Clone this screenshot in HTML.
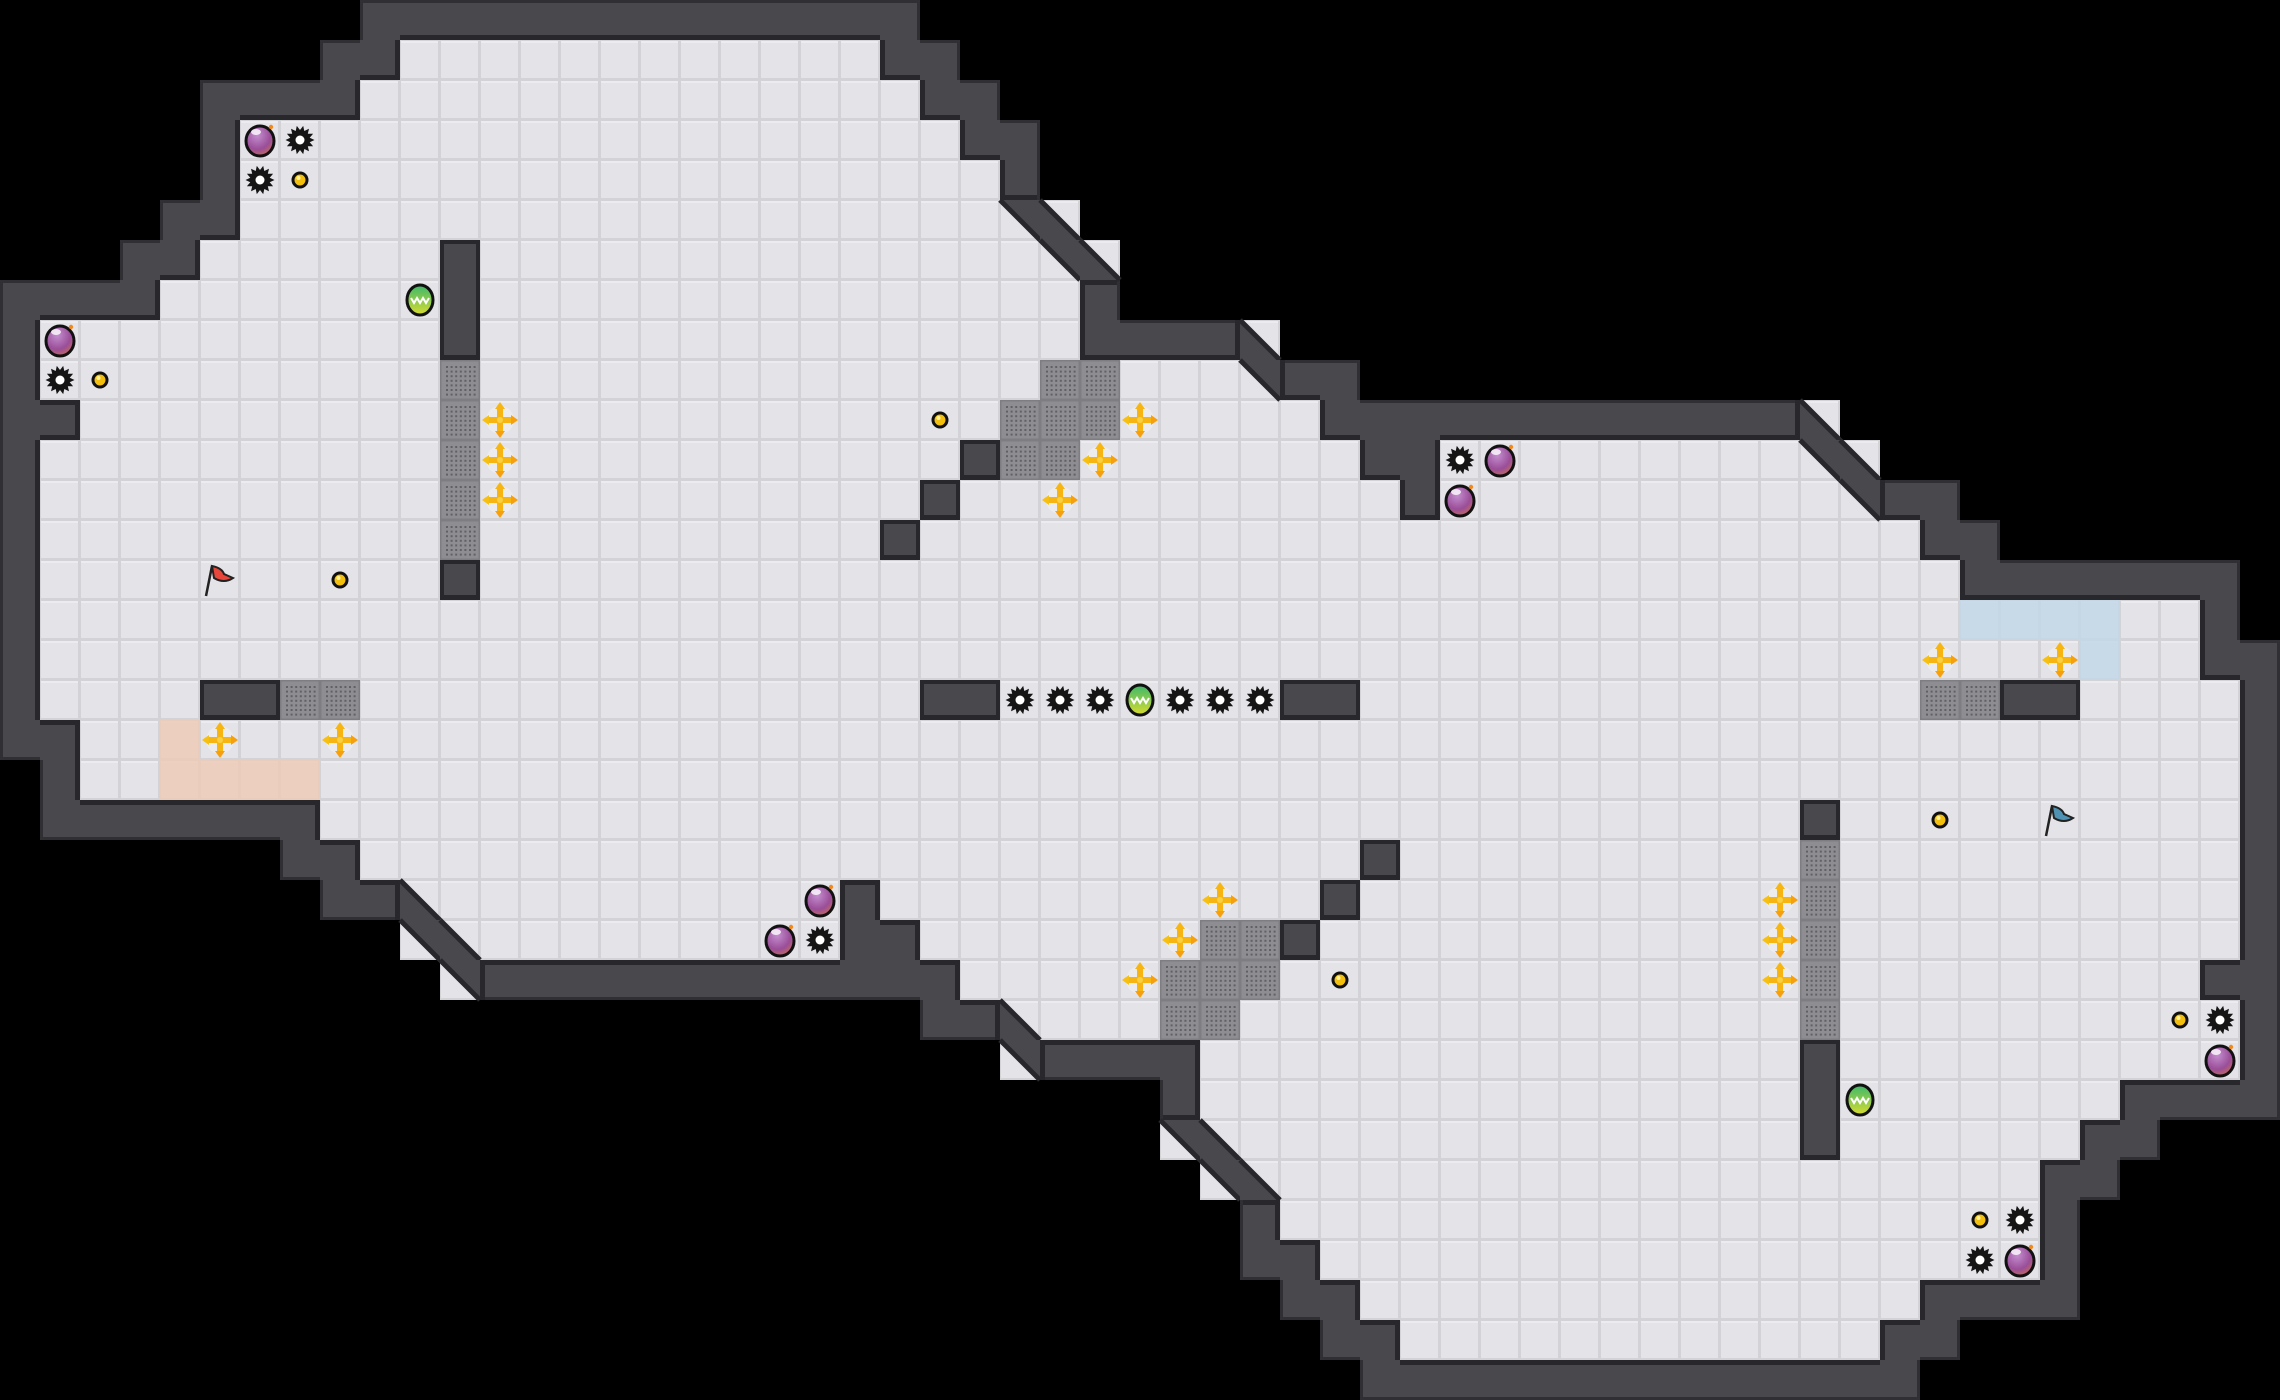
<!DOCTYPE html>
<html><head><meta charset="utf-8"><style>html,body{margin:0;padding:0;background:#000;}svg{display:block}</style></head>
<body>
<div id="wrap"></div>
<script>
const S=40,W=57,H=35;
const F={1:[[10,21]],2:[[9,22]],3:[[6,23]],4:[[6,24]],5:[[6,24]],6:[[5,25]],7:[[4,26]],8:[[1,26]],9:[[1,30]],10:[[2,32]],
11:[[1,33],[36,44]],12:[[1,34],[36,45]],13:[[1,47]],14:[[1,48]],15:[[1,54]],16:[[1,54]],17:[[1,55]],18:[[2,55]],19:[[2,55]],
20:[[8,55]],21:[[9,55]],22:[[11,20],[22,55]],23:[[12,20],[23,55]],24:[[24,54]],25:[[26,55]],26:[[30,55]],27:[[30,52]],
28:[[31,51]],29:[[32,50]],30:[[32,50]],31:[[33,50]],32:[[34,47]],33:[[35,46]]};
const g=[];for(let r=0;r<H;r++){g.push(new Array(W).fill(0));}
for(const r in F){for(const [a,b] of F[r])for(let c=a;c<=b;c++)g[r][c]=1;}
const isF=(r,c)=>r>=0&&r<H&&c>=0&&c<W&&g[r][c]===1;
for(let r=0;r<H;r++)for(let c=0;c<W;c++){if(g[r][c]===1)continue;let n=false;
for(let dr=-1;dr<=1;dr++)for(let dc=-1;dc<=1;dc++)if(isF(r+dr,c+dc))n=true;if(n)g[r][c]=2;}
const SL=[[5,25,3],[5,26,4],[6,26,3],[6,27,4],[8,31,4],[9,31,3],[10,45,4],[11,45,3],[11,46,4],[12,46,3],
[22,10,4],[23,10,3],[23,11,4],[24,11,3],[25,25,4],[26,25,3],[28,29,3],[28,30,4],[29,30,3],[29,31,4]];
for(const [r,c,t] of SL)g[r][c]=t;
let o=[];
o.push(`<svg xmlns="http://www.w3.org/2000/svg" width="2280" height="1400" viewBox="0 0 2280 1400">
<defs>
<pattern id="fl" width="40" height="40" patternUnits="userSpaceOnUse">
<rect width="40" height="40" fill="#d2d2d7"/><rect x="1" y="1" width="37" height="37" fill="#e3e3e8"/>
<rect x="1" y="1" width="37" height="2" fill="#ececf0"/></pattern>
<pattern id="gr" width="40" height="40" patternUnits="userSpaceOnUse">
<rect width="40" height="40" fill="#7d7d82"/><rect x="1.5" y="1.5" width="37" height="37" fill="#8d8d92"/>
${(()=>{let s='';for(let i=0;i<7;i++)for(let j=0;j<7;j++)s+=`<rect x="${6+i*4.6}" y="${6+j*4.6}" width="2" height="2" fill="#606065"/>`;return s;})()}
</pattern>
<radialGradient id="bm" cx="0.4" cy="0.3" r="0.8"><stop offset="0" stop-color="#c58fd0"/><stop offset="0.6" stop-color="#9a4e98"/><stop offset="1" stop-color="#d0704a"/></radialGradient>
<linearGradient id="gn" x1="0" y1="0" x2="0" y2="1"><stop offset="0" stop-color="#3cb86a"/><stop offset="1" stop-color="#d8dc30"/></linearGradient>
</defs>
<rect width="2280" height="1400" fill="#000"/>`);
for(let r=0;r<H;r++)for(let c=0;c<W;c++){const t=g[r][c];if(t===1||t===3||t===4)o.push(`<rect x="${c*S}" y="${r*S}" width="40" height="40" fill="url(#fl)"/>`);}
const tint=(r,c,col)=>o.push(`<rect x="${c*S}" y="${r*S}" width="40" height="40" fill="${col}" opacity="0.85"/>`);
tint(18,4,'#efcbb9');for(let c=4;c<=7;c++)tint(19,c,'#efcbb9');
for(let c=49;c<=52;c++)tint(15,c,'#c3d8e7');tint(16,52,'#c3d8e7');
const GR=[[9,11],[10,11],[11,11],[12,11],[13,11],[17,7],[17,8],[9,26],[9,27],[10,25],[10,26],[10,27],[11,25],[11,26],
[23,30],[23,31],[24,29],[24,30],[24,31],[25,29],[25,30],[17,48],[17,49],[21,45],[22,45],[23,45],[24,45],[25,45]];
for(const [r,c] of GR)o.push(`<rect x="${c*S}" y="${r*S}" width="40" height="40" fill="url(#gr)"/>`);
const WC='#49484d',DK='#28272b';
for(let r=0;r<H;r++)for(let c=0;c<W;c++){if(g[r][c]!==2)continue;const x=c*S,y=r*S;
o.push(`<rect x="${x}" y="${y}" width="40" height="40" fill="${WC}"/>`);}
for(let r=0;r<H;r++)for(let c=0;c<W;c++){if(g[r][c]!==2)continue;const x=c*S,y=r*S;
const nb=(rr,cc)=>(rr<0||rr>=H||cc<0||cc>=W)?0:g[rr][cc];
const side=(v,dir)=>{let w,col;if(v===1||v===3||v===4){w=5;col=DK;}else if(v===0){w=3;col='#303034';}else return;
if(dir==='t')o.push(`<rect x="${x}" y="${y}" width="40" height="${w}" fill="${col}"/>`);
if(dir==='b')o.push(`<rect x="${x}" y="${y+40-w}" width="40" height="${w}" fill="${col}"/>`);
if(dir==='l')o.push(`<rect x="${x}" y="${y}" width="${w}" height="40" fill="${col}"/>`);
if(dir==='r')o.push(`<rect x="${x+40-w}" y="${y}" width="${w}" height="40" fill="${col}"/>`);};
side(nb(r-1,c),'t');side(nb(r+1,c),'b');side(nb(r,c-1),'l');side(nb(r,c+1),'r');}
for(const [r,c,t] of SL){const x=c*S,y=r*S;
if(t===3)o.push(`<polygon points="${x},${y} ${x+40},${y} ${x+40},${y+40}" fill="${WC}"/>`);
else o.push(`<polygon points="${x},${y} ${x},${y+40} ${x+40},${y+40}" fill="${WC}"/>`);
o.push(`<line x1="${x}" y1="${y}" x2="${x+40}" y2="${y+40}" stroke="${DK}" stroke-width="5"/>`);}
const BL=[[6,8,11,11],[14,14,11,11],[17,17,5,6],[11,11,24,24],[12,12,23,23],[13,13,22,22],[17,17,23,24],[17,17,32,33],
[21,21,34,34],[22,22,33,33],[23,23,32,32],[17,17,50,51],[20,20,45,45],[26,28,45,45]];
for(const [r1,r2,c1,c2] of BL){const x=c1*S,y=r1*S,w=(c2-c1+1)*S,h=(r2-r1+1)*S;
o.push(`<rect x="${x}" y="${y}" width="${w}" height="${h}" fill="${DK}"/><rect x="${x+4}" y="${y+4}" width="${w-8}" height="${h-9}" fill="${WC}"/>`);}
const C=(r,c)=>[c*S+20,r*S+20];
function spike(r,c){const [x,y]=C(r,c);let p=[];const n=14;for(let i=0;i<2*n;i++){const a=i*Math.PI/n;const rr=i%2?10:14.5;p.push((x+rr*Math.cos(a)).toFixed(1)+','+(y+rr*Math.sin(a)).toFixed(1));}
o.push(`<polygon points="${p.join(' ')}" fill="#151515"/><circle cx="${x}" cy="${y}" r="4.5" fill="#fff"/>`);}
function bomb(r,c){const [x,y]=C(r,c);o.push(`<ellipse cx="${x}" cy="${y+1}" rx="14" ry="15" fill="url(#bm)" stroke="#111" stroke-width="3"/>
<ellipse cx="${x-4}" cy="${y-8}" rx="5" ry="3" fill="#fff" opacity="0.8"/><circle cx="${x+11}" cy="${y-13}" r="2.2" fill="#f08a20"/>`);}
function coin(r,c){const [x,y]=C(r,c);o.push(`<circle cx="${x}" cy="${y}" r="7" fill="#f4c00e" stroke="#111" stroke-width="3"/><circle cx="${x-1.5}" cy="${y-2}" r="2" fill="#fff3a0"/>`);}
function green(r,c){const [x,y]=C(r,c);o.push(`<ellipse cx="${x}" cy="${y}" rx="13" ry="15" fill="url(#gn)" stroke="#111" stroke-width="3"/>
<path d="M${x-9},${y-2} l3,5 l3,-5 l3,5 l3,-5 l3,5 l3,-5" fill="none" stroke="#fff" stroke-width="2"/>`);}
function cross(r,c){const [x,y]=C(r,c);o.push(`<circle cx="${x}" cy="${y}" r="14" fill="#ececf0" opacity="0.9"/>
<rect x="${x-13}" y="${y-3}" width="26" height="6" fill="#f6b512"/><rect x="${x-3}" y="${y-13}" width="6" height="26" fill="#f6b512"/>
<polygon points="${x},${y-18} ${x-5},${y-11} ${x+5},${y-11}" fill="#f6b512"/><polygon points="${x},${y+18} ${x-5},${y+11} ${x+5},${y+11}" fill="#f6a010"/>
<polygon points="${x-18},${y} ${x-11},${y-5} ${x-11},${y+5}" fill="#f6c012"/><polygon points="${x+18},${y} ${x+11},${y-5} ${x+11},${y+5}" fill="#f6a010"/>
<circle cx="${x}" cy="${y}" r="3" fill="#f8d040"/>`);}
function flag(r,c,col){const [x,y]=C(r,c);o.push(`<line x1="${x-14}" y1="${y+16}" x2="${x-8}" y2="${y-14}" stroke="#222" stroke-width="2.5"/>
<path d="M${x-8},${y-14} Q${x+2},${y-12} ${x+4},${y-6} L${x+13},${y-2} Q${x+4},${y+4} ${x-6},${y-2} Z" fill="${col}" stroke="#222" stroke-width="2"/>`);}
[[3,6],[8,1],[22,20],[23,19],[11,37],[12,36],[26,55],[31,50]].forEach(a=>bomb(...a));
[[3,7],[4,6],[9,1],[23,20],[11,36],[17,25],[17,26],[17,27],[17,29],[17,30],[17,31],[25,55],[30,50],[31,49]].forEach(a=>spike(...a));
[[4,7],[9,2],[14,8],[10,23],[24,33],[20,48],[25,54],[30,49]].forEach(a=>coin(...a));
[[7,10],[17,28],[27,46]].forEach(a=>green(...a));
[[10,12],[11,12],[12,12],[18,5],[18,8],[10,28],[11,27],[12,26],[22,30],[23,29],[24,28],[22,44],[23,44],[24,44],[16,48],[16,51]].forEach(a=>cross(...a));
flag(14,5,'#e8463a');flag(20,51,'#4f93b4');
o.push('</svg>');
document.getElementById('wrap').innerHTML=o.join('');
</script>
</body></html>
